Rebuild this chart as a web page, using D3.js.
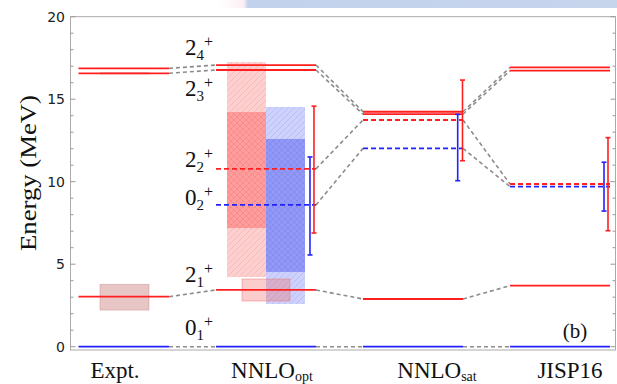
<!DOCTYPE html>
<html><head><meta charset="utf-8">
<script src="https://cdn.jsdelivr.net/npm/d3@7"></script>
<style>html,body{margin:0;padding:0;background:#fff;}svg{display:block;}</style>
</head><body>
<script>
// ---------- data ----------
const categories = ["Expt.", "NNLO_opt", "NNLO_sat", "JISP16"];
const catMain = ["Expt.", "NNLO", "NNLO", "JISP16"];
const catSub = ["", "opt", "sat", ""];
const stateMain = ["0", "2", "0", "2", "2", "2"];
const stateSub = ["1", "1", "2", "2", "3", "4"];
// level energies (MeV) per model, order: 0_1+, 2_1+, 0_2+, 2_2+, 2_3+, 2_4+
const exptLevels = [0, 3.03, null, null, 16.57, 16.87];
const optLevels  = [0, 3.44, 8.59, 10.78, 16.77, 17.07];
const satLevels  = [0, 2.89, 12.02, 13.74, 14.09, 14.24];
const jispLevels = [0, 3.70, 9.70, 9.86, 16.73, 16.93];
const levels = [exptLevels, optLevels, satLevels, jispLevels];
// extrapolation uncertainties
const err22 = [null, [6.89, 14.58], [11.27, 16.16], [7.03, 12.67]];
const err02 = [null, [5.56, 11.50], [10.06, 14.08], [8.22, 11.18]];
// NNLO_opt bands
const optBox22Outer = [4.22, 17.25];
const optBox22Inner = [7.19, 14.22];
const optBox02Outer = [2.59, 14.53];
const optBox02Inner = [4.53, 12.59];
const optBox21 = [2.77, 4.10];
const exptBox21 = [2.22, 3.78];
const exptBox23 = [16.50, 16.65];
// state label energies (baseline)
const stateLabelE = [0.71, 3.94, 8.59, 10.89, 15.19, 17.68];
const yTicks = [0, 5, 10, 15, 20];

(function () {
// ---------- layout ----------
const W = 617, H = 384;
const pLeft = 70.5, pRight = 615.5, pTop = 16.7, pBottom = 350;
const svg = d3.select("body").append("svg").attr("width", W).attr("height", H);

const y = d3.scaleLinear().domain([0, 20]).range([346.7, 16.7]);
const x = d3.scaleBand().domain(categories).range([69, 610]).paddingInner(0.32).paddingOuter(0);
const bw = x.bandwidth();

const RED = "#ff1f1f", BLUE = "#2222ff";
const serif = "Liberation Serif, Times New Roman, serif";

// screenshot artifact strip
const defs = svg.append("defs");
const lg = defs.append("linearGradient").attr("id", "strip").attr("x1", 0).attr("x2", 1);
lg.append("stop").attr("offset", "0").attr("stop-color", "#ffffff");
lg.append("stop").attr("offset", "0.06").attr("stop-color", "#fbeff3");
lg.append("stop").attr("offset", "0.07").attr("stop-color", "#c3d2ec");
lg.append("stop").attr("offset", "1").attr("stop-color", "#c6d4ec");
svg.append("rect").attr("x", 220).attr("y", 0).attr("width", 397).attr("height", 8).attr("fill", "url(#strip)");

// patterns
function hatch(id, bg, line, cross) {
  const p = defs.append("pattern").attr("id", id).attr("patternUnits", "userSpaceOnUse")
    .attr("width", 6).attr("height", 6);
  p.append("rect").attr("width", 6).attr("height", 6).attr("fill", bg);
  p.append("path").attr("d", "M-1,7 L7,-1 M-1,1 L1,-1 M5,7 L7,5").attr("stroke", line).attr("stroke-width", 0.8);
  if (cross) p.append("path").attr("d", "M-1,-1 L7,7 M5,-1 L7,1 M-1,5 L1,7").attr("stroke", line).attr("stroke-width", 0.8);
}
hatch("redLight", "#fdd0d0", "#f7b4b4", false);
hatch("redDark", "#ff9c9c", "#f58a8a", true);
hatch("blueLight", "#cdd1fb", "#b3b9f5", false);
hatch("blueDark", "#9198f6", "#828af0", true);

// frame
const frame = svg.append("g");
frame.append("rect").attr("x", pLeft).attr("y", pTop).attr("width", pRight - pLeft).attr("height", pBottom - pTop)
  .attr("fill", "none").attr("stroke", "#aaaaaa").attr("stroke-width", 1);

// ticks
const minor = d3.range(0, 21, 1);
minor.forEach(v => {
  const major = v % 5 === 0;
  const len = major ? 5 : 3;
  frame.append("line").attr("x1", pLeft).attr("x2", pLeft + len).attr("y1", y(v)).attr("y2", y(v)).attr("stroke", "#999").attr("stroke-width", 1);
  frame.append("line").attr("x1", pRight).attr("x2", pRight - len).attr("y1", y(v)).attr("y2", y(v)).attr("stroke", "#999").attr("stroke-width", 1);
});
frame.selectAll("text.tick").data(yTicks).enter().append("text")
  .attr("x", 65).attr("y", d => y(d)).attr("dy", "0.36em").attr("text-anchor", "end")
  .attr("font-family", "DejaVu Sans, sans-serif").attr("font-size", 14).attr("fill", "#222").text(d => d);

// y label
svg.append("text").attr("transform", "translate(36,173) rotate(-90)").attr("text-anchor", "middle")
  .attr("font-family", serif).attr("font-size", 24).attr("fill", "#111")
  .attr("textLength", 156).attr("lengthAdjust", "spacingAndGlyphs").text("Energy (MeV)");

// boxes NNLO_opt
const ox = x("NNLO_opt");
function box(x0f, x1f, range, fill) {
  return svg.append("rect").attr("x", ox + x0f * bw).attr("width", (x1f - x0f) * bw)
    .attr("y", y(range[1])).attr("height", y(range[0]) - y(range[1])).attr("fill", fill);
}
box(0.11, 0.50, optBox22Outer, "url(#redLight)");
box(0.11, 0.50, optBox22Inner, "url(#redDark)");
box(0.50, 0.89, optBox02Outer, "url(#blueLight)");
box(0.50, 0.89, optBox02Inner, "url(#blueDark)");
svg.append("rect").attr("x", ox + 0.26 * bw).attr("width", 0.48 * bw)
  .attr("y", y(optBox21[1])).attr("height", y(optBox21[0]) - y(optBox21[1]))
  .attr("fill", "rgba(240,110,110,0.35)").attr("stroke", "rgba(235,120,120,0.6)").attr("stroke-width", 0.8);

// Expt boxes
const ex = x("Expt.");
svg.append("rect").attr("x", ex + 0.31 * bw).attr("width", 0.49 * bw)
  .attr("y", y(exptBox21[1])).attr("height", y(exptBox21[0]) - y(exptBox21[1]))
  .attr("fill", "rgba(200,120,120,0.42)").attr("stroke", "rgba(200,130,130,0.5)").attr("stroke-width", 0.8);
svg.append("rect").attr("x", ex + 0.31 * bw).attr("width", 0.49 * bw)
  .attr("y", y(exptBox23[1])).attr("height", y(exptBox23[0]) - y(exptBox23[1]))
  .attr("fill", "rgba(220,120,120,0.4)");

// connectors
const conn = svg.append("g");
for (let i = 0; i < categories.length - 1; i++) {
  for (let s = 0; s < stateSub.length; s++) {
    const a = levels[i][s], b = levels[i + 1][s];
    if (a == null || b == null) continue;
    conn.append("line").attr("x1", x(categories[i]) + bw).attr("y1", y(a))
      .attr("x2", x(categories[i + 1])).attr("y2", y(b))
      .attr("stroke", "#8c8c8c").attr("stroke-width", 1.6).attr("stroke-dasharray", "4,3");
  }
}

// levels
const stateColor = [BLUE, RED, BLUE, RED, RED, RED];
const stateDash = [null, null, "5,3", "5,3", null, null];
const lv = svg.append("g");
categories.forEach((c, i) => {
  levels[i].forEach((e, s) => {
    if (e == null) return;
    const x0 = Math.max(x(c), pLeft + 8);
    lv.append("line").attr("x1", x0).attr("x2", x(c) + bw).attr("y1", y(e)).attr("y2", y(e))
      .attr("stroke", stateColor[s]).attr("stroke-width", 1.8)
      .attr("stroke-dasharray", stateDash[s]);
  });
});

// error bars
function errbar(cat, rng, xf, color) {
  if (!rng) return;
  const xx = x(cat) + xf * bw;
  const g = svg.append("g").attr("stroke", color).attr("stroke-width", 1.6);
  g.append("line").attr("x1", xx).attr("x2", xx).attr("y1", y(rng[0])).attr("y2", y(rng[1]));
  g.append("line").attr("x1", xx - 2.5).attr("x2", xx + 2.5).attr("y1", y(rng[0])).attr("y2", y(rng[0]));
  g.append("line").attr("x1", xx - 2.5).attr("x2", xx + 2.5).attr("y1", y(rng[1])).attr("y2", y(rng[1]));
}
categories.forEach((c, i) => {
  errbar(c, err02[i], i === 2 ? 0.947 : 0.94, BLUE);
  errbar(c, err22[i], i === 2 ? 0.995 : 0.98, RED);
});

// state labels
stateMain.forEach((m, s) => {
  const t = svg.append("text").attr("x", 185).attr("y", y(stateLabelE[s]))
    .attr("font-family", serif).attr("font-size", 23).attr("fill", "#111");
  t.append("tspan").text(m);
  t.append("tspan").attr("font-size", 15).attr("dy", 5).text(stateSub[s]);
  t.append("tspan").attr("font-size", 16).attr("dy", -13).text("+");
});

// category labels
const labelShift = [-4, 6, 24, 10];
categories.forEach((c, i) => {
  const t = svg.append("text").attr("x", x(c) + bw / 2 + labelShift[i]).attr("y", 378)
    .attr("text-anchor", "middle").attr("font-family", serif).attr("font-size", 23).attr("fill", "#111");
  t.append("tspan").text(catMain[i]);
  if (catSub[i]) t.append("tspan").attr("font-size", 14).attr("dy", 3).text(catSub[i]);
});

// panel tag
svg.append("text").attr("x", 575).attr("y", 338).attr("text-anchor", "middle")
  .attr("font-family", serif).attr("font-size", 21).attr("fill", "#111").text("(b)");
})();
</script>
</body></html>
